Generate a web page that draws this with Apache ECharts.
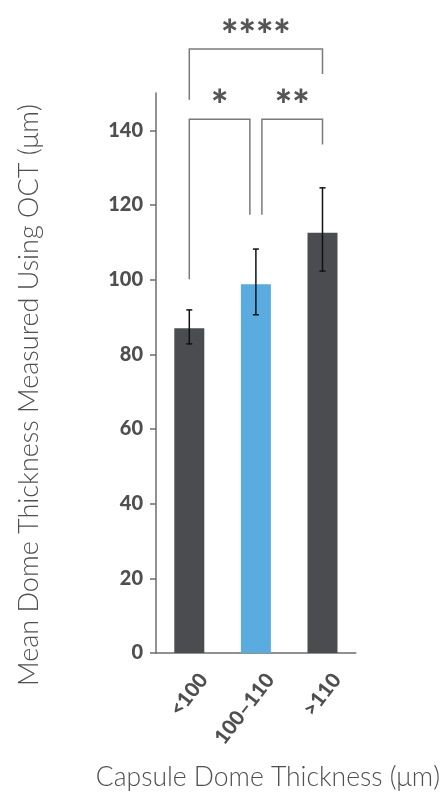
<!DOCTYPE html>
<html lang="en">
<head>
  <meta charset="UTF-8">
  <title>Mean Dome Thickness</title>
  <script src="https://cdn.jsdelivr.net/npm/echarts@6/dist/echarts.min.js"></script>
  <style>
    html, body { margin: 0; padding: 0; background: #fff; }
    #chart { width: 443px; height: 796px; }
  </style>
</head>
<body>
<div id="chart"></div>
<script>
  // groups and measured means (um)
  var categories = ['<100', '100–110', '>110'];
  var means = [87.0, 98.8, 112.6];
  var errLow = [82.8, 90.6, 102.3];
  var errHigh = [91.9, 108.2, 124.6];
  var yTicks = [0, 20, 40, 60, 80, 100, 120, 140];

  // significance brackets (category index from/to, bracket height, leg ends)
  var sigLabels = ['*', '**', '****'];
  var sigFrom = [0, 1, 0];
  var sigTo = [1, 2, 2];
  var sigTop = [143.0, 143.0, 161.8];
  var sigLeftEnd = [100.1, 117.4, 148.2];
  var sigRightEnd = [117.4, 136.2, 155.1];

  var barColors = ['#4b4c50', '#5aabdf', '#4b4c50'];
  var axisColor = '#6e6e6e';
  var textColor = '#4f4f4f';

  var chart = echarts.init(document.getElementById('chart'));

  var barData = means.map(function (v, i) {
    return { value: v, itemStyle: { color: barColors[i] } };
  });
  var errData = means.map(function (v, i) { return [i, errLow[i], errHigh[i]]; });
  var sigData = sigLabels.map(function (s, i) {
    return [sigFrom[i], sigTo[i], sigTop[i], sigLeftEnd[i], sigRightEnd[i]];
  });

  function renderError(params, api) {
    var lo = api.coord([api.value(0), api.value(1)]);
    var hi = api.coord([api.value(0), api.value(2)]);
    var cap = 3;
    var st = { stroke: '#111', lineWidth: 1.5 };
    return {
      type: 'group',
      children: [
        { type: 'line', shape: { x1: lo[0], y1: lo[1], x2: hi[0], y2: hi[1] }, style: st },
        { type: 'line', shape: { x1: hi[0] - cap, y1: hi[1], x2: hi[0] + cap, y2: hi[1] }, style: st },
        { type: 'line', shape: { x1: lo[0] - cap, y1: lo[1], x2: lo[0] + cap, y2: lo[1] }, style: st }
      ]
    };
  }

  function renderBracket(params, api) {
    var i = params.dataIndex;
    var pL = api.coord([api.value(0), api.value(2)]);
    var pR = api.coord([api.value(1), api.value(2)]);
    // legs that land on the shared middle bar are nudged apart
    var shift = 6;
    var xl = pL[0] + (sigFrom[i] === 1 ? shift : 0);
    var xr = pR[0] - (sigTo[i] === 1 ? shift : 0);
    var yl = api.coord([0, api.value(3)])[1];
    var yr = api.coord([0, api.value(4)])[1];
    return {
      type: 'group',
      children: [
        {
          type: 'polyline',
          shape: { points: [[xl, yl], [xl, pL[1]], [xr, pL[1]], [xr, yr]] },
          style: { stroke: '#7a7a7a', lineWidth: 1.5, fill: null }
        },
        {
          type: 'text',
          x: (xl + xr) / 2,
          y: pL[1] - 12,
          style: {
            text: sigLabels[i],
            fill: '#555',
            font: '900 41px Lato',
            align: 'center',
            verticalAlign: 'middle'
          }
        }
      ]
    };
  }

  var option = {
    animation: false,
    grid: { left: 156, right: 85, top: 93, bottom: 141 },
    xAxis: {
      type: 'category',
      data: categories,
      name: 'Capsule Dome Thickness (μm)',
      nameLocation: 'middle',
      nameGap: 111,
      nameTextStyle: {
        fontFamily: 'Lato', fontWeight: 300, fontSize: 26.5, color: textColor,
        padding: [0, 0, 0, 24]
      },
      axisLine: { lineStyle: { color: axisColor, width: 1.5 } },
      axisTick: { alignWithLabel: true, length: 6, lineStyle: { color: axisColor, width: 1.5 } },
      axisLabel: {
        interval: 0, rotate: 52, margin: 8, verticalAlign: 'top', padding: [10, 3, 0, 0],
        fontFamily: 'Lato', fontWeight: 900, fontSize: 20.5, color: textColor
      }
    },
    yAxis: {
      type: 'value',
      min: 0,
      max: 150,
      interval: 10,
      name: 'Mean Dome Thickness Measured Using OCT (μm)',
      nameLocation: 'middle',
      nameGap: 113,
      nameTextStyle: {
        fontFamily: 'Lato', fontWeight: 300, fontSize: 27, color: textColor,
        padding: [0, 44, 0, 0]
      },
      axisLine: { show: true, lineStyle: { color: axisColor, width: 1.5 } },
      axisTick: { show: true, length: 6, customValues: yTicks, lineStyle: { color: axisColor, width: 1.5 } },
      axisLabel: {
        customValues: yTicks, margin: 13, fontFamily: 'Lato', fontWeight: 900,
        fontSize: 20, color: textColor
      },
      splitLine: { show: false }
    },
    series: [
      { type: 'bar', data: barData, barWidth: 30 },
      {
        type: 'custom', data: errData, renderItem: renderError,
        encode: { x: 0, y: [1, 2] }, z: 5, silent: true
      },
      {
        type: 'custom', data: sigData, renderItem: renderBracket,
        encode: { x: [0, 1], y: [2, 3, 4] }, clip: false, z: 5, silent: true
      }
    ]
  };

  chart.setOption(option);
</script>
</body>
</html>
